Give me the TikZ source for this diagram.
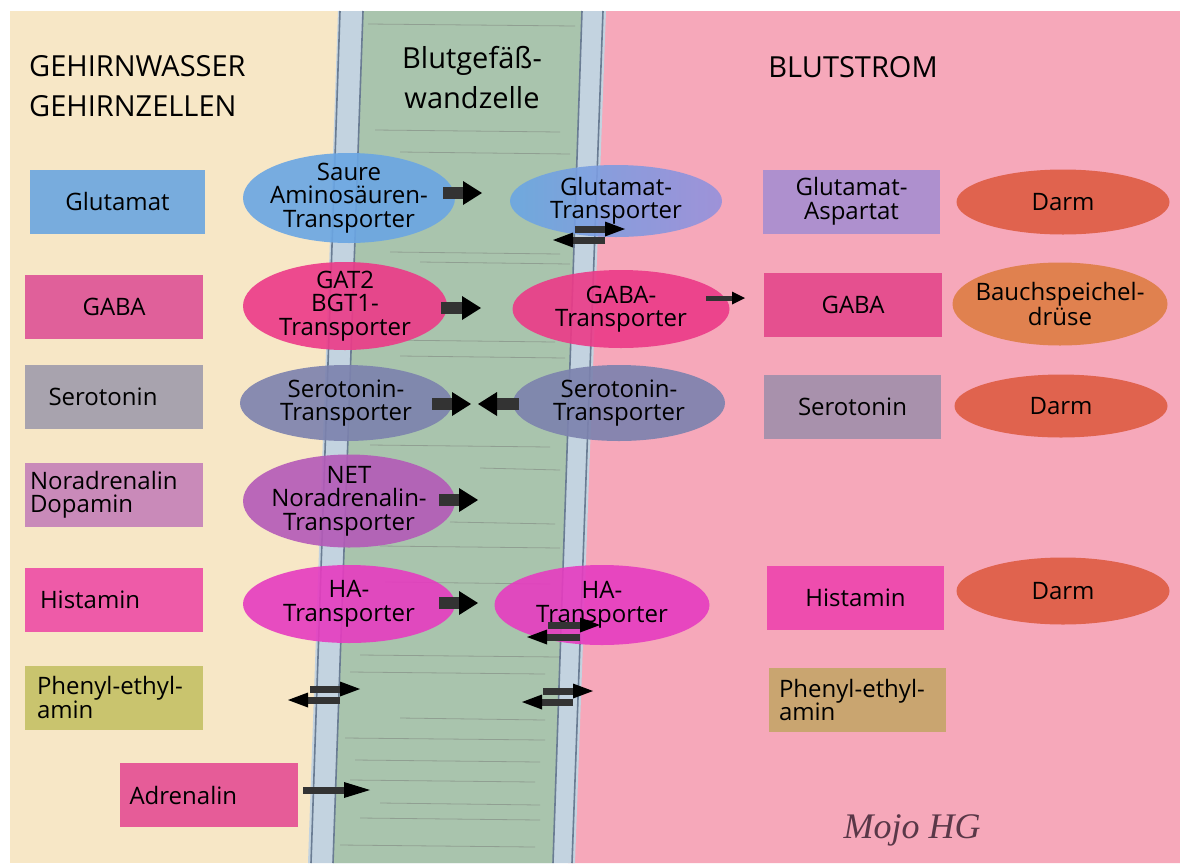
\documentclass[tikz,border=0pt]{standalone}
\usepackage{fontspec}
\setmainfont{Open Sans}
\newfontfamily\sigfont{Liberation Serif}
\usetikzlibrary{shapes.geometric,arrows.meta}
\definecolor{beige}{HTML}{F7E7C6}
\definecolor{pinkbg}{HTML}{F6A8BA}
\definecolor{membrane}{HTML}{C3D3E0}
\definecolor{wallgreen}{HTML}{A9C4AD}
\definecolor{edgecol}{HTML}{6A7C93}
\definecolor{cGlu}{HTML}{78ACDD}
\definecolor{cGaba}{HTML}{E0609A}
\definecolor{cSero}{HTML}{A8A3AE}
\definecolor{cNor}{HTML}{C98AB9}
\definecolor{cHist}{HTML}{EE5BA8}
\definecolor{cPhen}{HTML}{C9C46E}
\definecolor{cAdr}{HTML}{E65C98}
\definecolor{eGlu}{HTML}{6AA6E3}
\definecolor{eGluR}{HTML}{9590DC}
\definecolor{eGaba}{HTML}{EC3A88}
\definecolor{eSero}{HTML}{7C82AE}
\definecolor{eNor}{HTML}{B45AB8}
\definecolor{eHa}{HTML}{E63CC0}
\definecolor{rGlu}{HTML}{AE90CE}
\definecolor{rGaba}{HTML}{E5508F}
\definecolor{rSero}{HTML}{A891AC}
\definecolor{rHist}{HTML}{EE4DAE}
\definecolor{rPhen}{HTML}{C9A570}
\definecolor{darm}{HTML}{E0634E}
\definecolor{pank}{HTML}{E0814F}
\definecolor{sigcol}{HTML}{5A3848}
\newcommand\lblfont{\fontsize{24}{23.5}\selectfont}
\newcommand\hdrfont{\fontsize{29}{40}\selectfont}
\tikzset{
  box/.style={rectangle, inner sep=0pt, minimum width=178pt, minimum height=64pt, font=\lblfont, align=center},
  lbox/.style={box, align=left, text width=168pt},
  tell/.style={ellipse, inner sep=0pt, fill opacity=0.9, draw=none},
  org/.style={ellipse, inner sep=0pt, fill=darm},
  etxt/.style={font=\lblfont, align=center, inner sep=0pt},
  blk/.style={line width=12pt, draw=black!80, -{Triangle[length=19pt,width=24pt,line width=0pt,fill=black]}},
  sblk/.style={line width=7pt, draw=black!80, -{Triangle[length=20pt,width=15pt,line width=0pt,fill=black]}},
  edgeline/.style={draw=edgecol, line width=1.6pt},
  pencil/.style={draw=black!55, opacity=0.45, line width=0.8pt}
}
\begin{document}
\begin{tikzpicture}[x=1pt,y=-1pt]
\useasboundingbox (0,0) rectangle (1180,863);
\fill[white] (0,0) rectangle (1180,863);
% backgrounds
\fill[beige] (10,11) rectangle (345,863);
\fill[pinkbg] (598,11) -- (1180,11) -- (1180,863) -- (568,863) -- cycle;
\fill[membrane] (338,11) -- (606,11) -- (575,863) -- (308,863) -- cycle;
\fill[wallgreen] (363,11) -- (582,11) -- (553,863) -- (333,863) -- cycle;
\draw[edgeline] (340,11) -- (311,863);
\draw[edgeline] (363,11) -- (333,863);
\draw[edgeline] (582,11) -- (553,863);
\draw[edgeline] (603,11) -- (572,863);
% pencil strokes in the wall
\foreach \yy/\xa/\xb in {24/368/575, 130/375/560, 152/400/570, 252/390/560, 262/420/570, 340/385/555, 356/400/565, 445/370/550, 468/480/560, 522/450/555, 546/380/560, 582/385/550, 655/360/560, 672/350/545, 718/400/545, 738/345/545, 760/355/540, 780/350/535, 803/380/540, 818/360/540, 845/340/535}
  \draw[pencil] (\xa,\yy) -- (\xb,\yy+2);
% headers
\node[anchor=north west, align=left, font=\hdrfont, inner sep=0pt] (h1) at (29,55) {GEHIRNWASSER\\GEHIRNZELLEN};
\node[align=center, font=\hdrfont, inner sep=0pt] (h2) at (472,78) {Blutgefäß-\\wandzelle};
\node[font=\hdrfont, inner sep=0pt] (h3) at (853,67) {BLUTSTROM};
% left boxes
\node[box, fill=cGlu, minimum width=175pt] (lglu) at (117.5,201.5) {Glutamat};
\node[box, fill=cGaba] (lgaba) at (114,306.5) {GABA};
\node[box, fill=cSero] (lsero) at (114,396.5) {\hspace*{-22pt}Serotonin};
\node[lbox, fill=cNor] (lnor) at (114,495) {Noradrenalin\\Dopamin};
\node[lbox, fill=cHist] (lhist) at (114,600) {\hspace*{10pt}Histamin};
\node[lbox, fill=cPhen] (lphen) at (114,697.5) {\hspace*{7pt}Phenyl-ethyl-\\\hspace*{7pt}amin};
\node[lbox, fill=cAdr, text width=158pt] (ladr) at (208.5,795) {Adrenalin};
% left transporters
\node[tell, fill=eGlu, minimum width=212pt, minimum height=90pt] (t1) at (349,198) {};
\node[etxt] (t1t) at (t1) {Saure\\Aminosäuren-\\Transporter};
\node[tell, fill=eGaba, minimum width=204pt, minimum height=88pt] (t2) at (345,306) {};
\node[etxt] (t2t) at (t2) {GAT2\\BGT1-\\Transporter};
\node[tell, fill=eSero, minimum width=212pt, minimum height=76pt] (t3) at (346,403) {};
\node[etxt] (t3t) at (t3) {Serotonin-\\Transporter};
\node[tell, fill=eNor, minimum width=212pt, minimum height=93pt] (t4) at (349,501) {};
\node[etxt] (t4t) at (t4) {NET\\Noradrenalin-\\Transporter};
\node[tell, fill=eHa, minimum width=212pt, minimum height=78pt] (t5) at (349,604) {};
\node[etxt] (t5t) at (t5) {HA-\\Transporter};
% right transporters
\node[tell, left color=eGlu, right color=eGluR, minimum width=212pt, minimum height=72pt] (u1) at (616,201) {};
\node[etxt] (u1t) at (u1) {Glutamat-\\Transporter};
\node[tell, fill=eGaba, minimum width=217pt, minimum height=78pt] (u2) at (621,309) {};
\node[etxt] (u2t) at (u2) {GABA-\\Transporter};
\node[tell, fill=eSero, minimum width=212pt, minimum height=76pt] (u3) at (619,403) {};
\node[etxt] (u3t) at (u3) {Serotonin-\\Transporter};
\node[tell, fill=eHa, minimum width=215pt, minimum height=80pt] (u4) at (602,605) {};
\node[etxt] (u4t) at (u4) {HA-\\Transporter};
% right boxes
\node[box, fill=rGlu, minimum width=177pt] (rglu) at (851.5,201.5) {Glutamat-\\Aspartat};
\node[box, fill=rGaba] (rgaba) at (853,305) {GABA};
\node[box, fill=rSero, minimum width=177pt] (rsero) at (852.5,407) {Serotonin};
\node[box, fill=rHist, minimum width=177pt] (rhist) at (855.5,597.5) {Histamin};
\node[lbox, fill=rPhen, minimum width=177pt, text width=157pt] (rphen) at (857.5,700) {Phenyl-ethyl-\\amin};
% organs
\node[org, minimum width=213pt, minimum height=65pt] (o1) at (1063,202) {};
\node[etxt] at (o1) {Darm};
\node[org, fill=pank, minimum width=215pt, minimum height=83pt] (o2) at (1060,304) {};
\node[etxt] at (o2) {Bauchspeichel-\\drüse};
\node[org, minimum width=213pt, minimum height=63pt] (o3) at (1061,406) {};
\node[etxt] at (o3) {Darm};
\node[org, minimum width=213pt, minimum height=67pt] (o4) at (1063,591) {};
\node[etxt] at (o4) {Darm};
% arrow end points
\coordinate (a1s) at (443,193); \coordinate (a1e) at (482,193);
\coordinate (a2s) at (575,229); \coordinate (a2e) at (625,229);
\coordinate (a3s) at (605,240); \coordinate (a3e) at (553,240);
\coordinate (a4s) at (441,308); \coordinate (a4e) at (481,308);
\coordinate (a5s) at (706,298); \coordinate (a5e) at (745,298);
\coordinate (a6s) at (432,404); \coordinate (a6e) at (471,404);
\coordinate (a7s) at (519,404); \coordinate (a7e) at (478,404);
\coordinate (a8s) at (439,500); \coordinate (a8e) at (478,500);
\coordinate (a9s) at (439,603); \coordinate (a9e) at (478,603);
\coordinate (b1s) at (548,625); \coordinate (b1e) at (600,625);
\coordinate (b2s) at (580,637); \coordinate (b2e) at (527,637);
\coordinate (b3s) at (310,689); \coordinate (b3e) at (360,689);
\coordinate (b4s) at (340,700); \coordinate (b4e) at (288,700);
\coordinate (b5s) at (543,691); \coordinate (b5e) at (593,691);
\coordinate (b6s) at (573,702); \coordinate (b6e) at (522,702);
\coordinate (b7s) at (303,790); \coordinate (b7e) at (370,790);
\draw[blk] (a1s) -- (a1e);
\draw[sblk] (a2s) -- (a2e);
\draw[sblk] (a3s) -- (a3e);
\draw[blk] (a4s) -- (a4e);
\draw[sblk, line width=5pt, -{Triangle[length=13pt,width=13pt,line width=0pt,fill=black]}] (a5s) -- (a5e);
\draw[blk] (a6s) -- (a6e);
\draw[blk] (a7s) -- (a7e);
\draw[blk] (a8s) -- (a8e);
\draw[blk] (a9s) -- (a9e);
\draw[sblk] (b1s) -- (b1e);
\draw[sblk] (b2s) -- (b2e);
\draw[sblk] (b3s) -- (b3e);
\draw[sblk] (b4s) -- (b4e);
\draw[sblk] (b5s) -- (b5e);
\draw[sblk] (b6s) -- (b6e);
\draw[sblk, -{Triangle[length=26pt,width=16pt,line width=0pt,fill=black]}] (b7s) -- (b7e);
% signature
\node[font=\sigfont\itshape\fontsize{36}{36}\selectfont, text=sigcol, inner sep=0pt] (sig) at (912,830) {Mojo HG};
\end{tikzpicture}
\end{document}
